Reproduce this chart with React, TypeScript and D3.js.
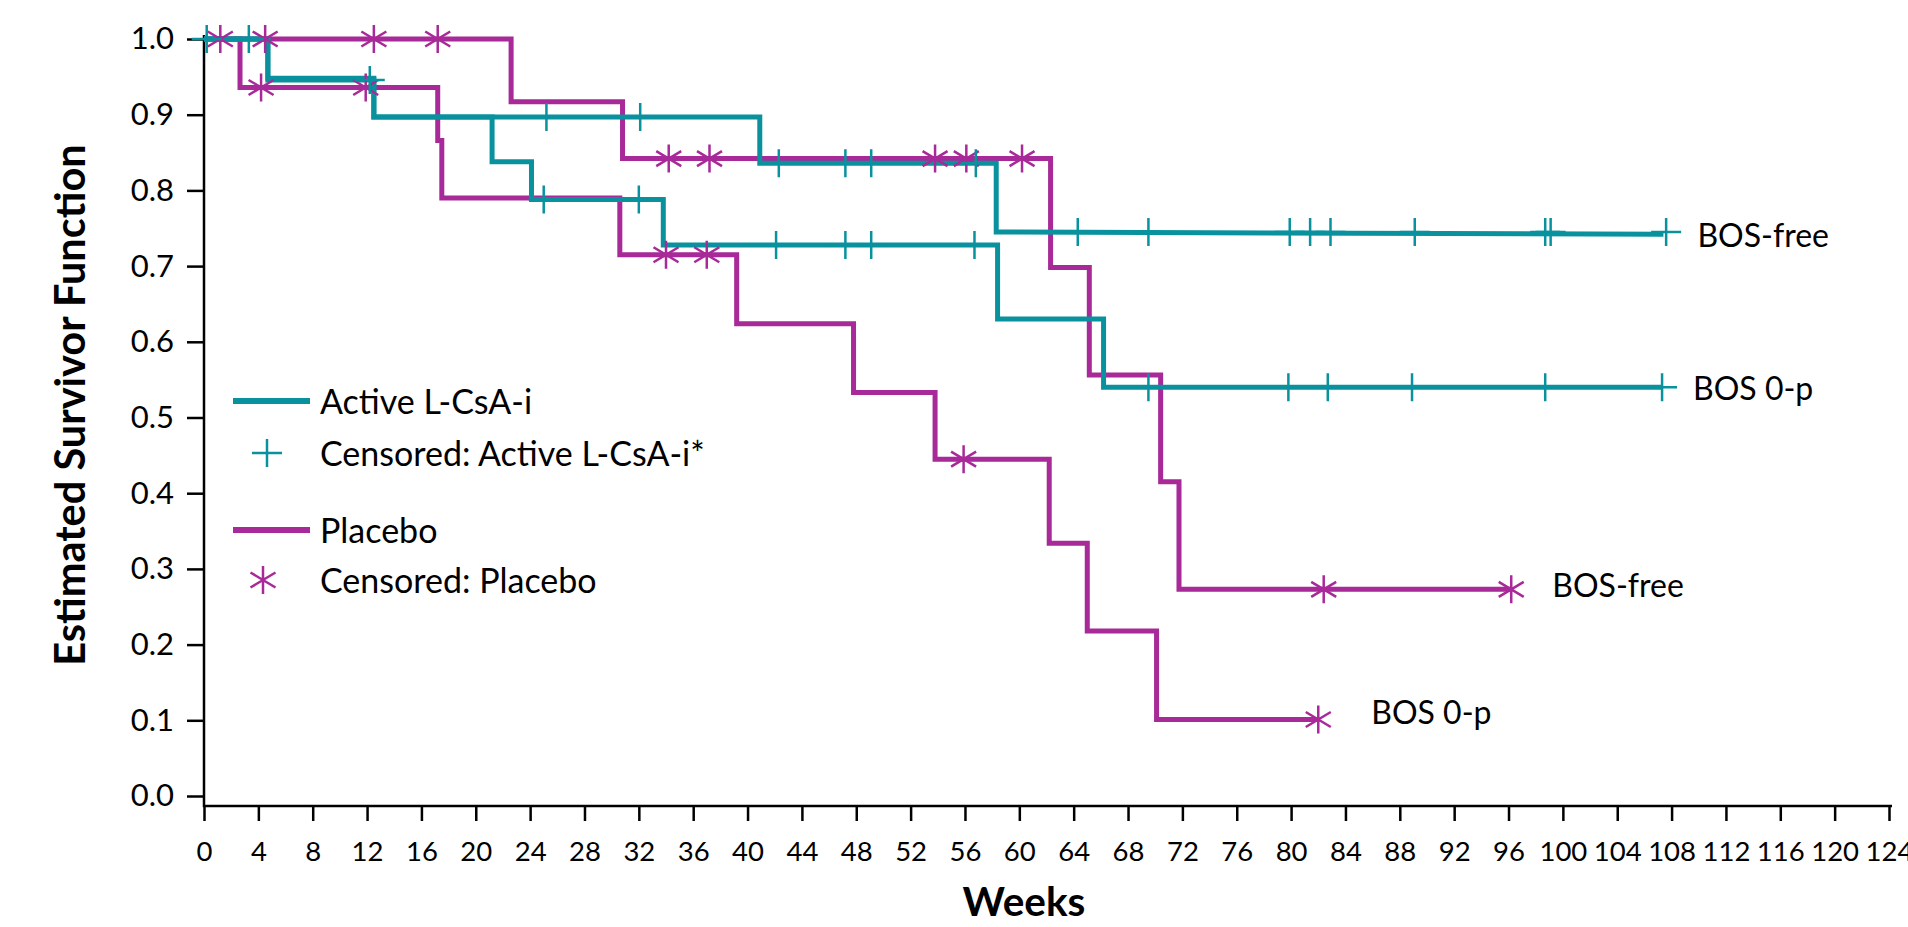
import React, { useEffect, useRef } from 'react';
import * as d3 from 'd3';

const TEAL = '#09929e';
const PURPLE = '#a82998';
const FONT = 'Lato, "Open Sans", sans-serif';

// event times (weeks) and survivor estimate after each event; last entry = end of follow-up
const activeFreeTimes = [0, 4.7, 12.5, 40.9, 58.3, 107.4];
const activeFreeSurv = [1.0, 0.948, 0.897, 0.836, 0.745, 0.742];
const activeFreeCensored = [0.2, 3.3, 25.2, 32.1, 42.3, 47.2, 49.1, 56.8, 64.3, 69.5, 79.9, 81.4, 82.9, 89.1, 98.7, 99.1, 107.6];

const activeBos0pTimes = [0, 4.7, 12.5, 21.2, 24.1, 33.8, 58.4, 66.2, 107.3];
const activeBos0pSurv = [1.0, 0.946, 0.897, 0.838, 0.788, 0.728, 0.63, 0.54, 0.54];
const activeBos0pCensored = [12.2, 25.0, 32.0, 42.1, 47.2, 49.1, 56.7, 69.5, 79.8, 82.7, 88.9, 98.7, 107.3];

const placeboFreeTimes = [0, 22.6, 30.8, 62.3, 65.15, 70.4, 71.75, 96.2];
const placeboFreeSurv = [1.0, 0.917, 0.842, 0.698, 0.556, 0.415, 0.273, 0.273];
const placeboFreeCensored = [1.2, 4.5, 12.5, 17.2, 34.2, 37.2, 53.8, 56.1, 60.2, 82.4, 96.2];

const placeboBos0pTimes = [0, 2.65, 17.2, 17.5, 30.6, 39.2, 47.8, 53.8, 62.2, 65.0, 70.1, 82.0];
const placeboBos0pSurv = [1.0, 0.936, 0.866, 0.79, 0.715, 0.624, 0.533, 0.445, 0.334, 0.218, 0.101, 0.101];
const placeboBos0pCensored = [4.2, 11.9, 34.0, 37.0, 55.9, 82.0];

const xTicks = d3.range(0, 125, 4);
const yTicks = d3.range(0, 11).map((d) => d / 10);

const legendItems = ['Active L-CsA-i', 'Censored: Active L-CsA-i*', 'Placebo', 'Censored: Placebo'];

type Curve = {
    times: number[];
    surv: number[];
    censored: number[];
    color: string;
    marker: 'plus' | 'star';
    label: string;
    labelDx: number;
    labelDy: number;
};

const curves: Curve[] = [
    { times: placeboFreeTimes, surv: placeboFreeSurv, censored: placeboFreeCensored, color: PURPLE, marker: 'star', label: 'BOS-free', labelDx: 41, labelDy: 8 },
    { times: placeboBos0pTimes, surv: placeboBos0pSurv, censored: placeboBos0pCensored, color: PURPLE, marker: 'star', label: 'BOS 0-p', labelDx: 53, labelDy: 4 },
    { times: activeFreeTimes, surv: activeFreeSurv, censored: activeFreeCensored, color: TEAL, marker: 'plus', label: 'BOS-free', labelDx: 34, labelDy: 13 },
    { times: activeBos0pTimes, surv: activeBos0pSurv, censored: activeBos0pCensored, color: TEAL, marker: 'plus', label: 'BOS 0-p', labelDx: 31, labelDy: 13 },
];

// survivor value at time t (step function)
const survAt = (times: number[], surv: number[], t: number) => {
    let v = surv[0];
    times.forEach((tt, i) => {
        if (tt <= t && i < times.length - 1) v = surv[i];
    });
    return v;
};

const plusPath = (cx: number, cy: number) => `M${cx - 15},${cy}H${cx + 15}M${cx},${cy - 14}V${cy + 14}`;
const starPath = (cx: number, cy: number) => `M${cx},${cy - 14}V${cy + 14}M${cx - 12.5},${cy - 7.5}L${cx + 12.5},${cy + 7.5}M${cx - 12.5},${cy + 7.5}L${cx + 12.5},${cy - 7.5}`;

const App = () => {
    const ref = useRef<SVGSVGElement>(null);

    useEffect(() => {
        const svg = d3.select(ref.current);
        svg.selectAll('*').remove();

        const x = d3.scaleLinear().domain([0, 124]).range([204, 1889]);
        const y = d3.scaleLinear().domain([0, 1]).range([796, 39]);
        const axisY = 806;

        // y axis
        const gy = svg.append('g').attr('transform', 'translate(204,0)')
            .call(d3.axisLeft(y).tickValues(yTicks).tickFormat(d3.format('.1f')).tickSize(17).tickSizeOuter(0).tickPadding(13));
        gy.select('.domain').remove();
        gy.selectAll('line').attr('stroke', '#000').attr('stroke-width', 2.5);
        gy.selectAll('text').attr('font-family', FONT).attr('font-size', 31).attr('fill', '#000');

        // x axis
        const gx = svg.append('g').attr('transform', `translate(0,${axisY})`)
            .call(d3.axisBottom(x).tickValues(xTicks).tickSize(15).tickSizeOuter(0).tickPadding(20));
        gx.select('.domain').remove();
        gx.selectAll('line').attr('stroke', '#000').attr('stroke-width', 2.5);
        gx.selectAll('text').attr('font-family', FONT).attr('font-size', 27.5).attr('fill', '#000');

        svg.append('line').attr('x1', 204).attr('x2', 204).attr('y1', 35).attr('y2', axisY + 1.25)
            .attr('stroke', '#000').attr('stroke-width', 2.5);
        svg.append('line').attr('x1', 204).attr('x2', 1892).attr('y1', axisY).attr('y2', axisY)
            .attr('stroke', '#000').attr('stroke-width', 2.5);

        // axis titles
        svg.append('text').attr('x', 1024).attr('y', 916).attr('text-anchor', 'middle')
            .attr('font-family', FONT).attr('font-weight', 700).attr('font-size', 40.5).text('Weeks');
        svg.append('text').attr('transform', 'translate(85,405) rotate(-90)').attr('text-anchor', 'middle')
            .attr('font-family', FONT).attr('font-weight', 700).attr('font-size', 41.5).text('Estimated Survivor Function');

        const line = d3.line<[number, number]>()
            .x((d) => x(d[0]))
            .y((d) => y(d[1]))
            .curve(d3.curveStepAfter);

        curves.forEach((c) => {
            const pts = c.times.map((t, i) => [t, c.surv[i]] as [number, number]);
            // last segment drawn straight (slight drift in the flat tail)
            const d = line(pts.slice(0, -1)) + `L${x(pts[pts.length - 1][0])},${y(pts[pts.length - 1][1])}`;
            svg.append('path').attr('d', d).attr('fill', 'none')
                .attr('stroke', c.color).attr('stroke-width', 5);
        });

        curves.forEach((c) => {
            const g = svg.append('g');
            g.selectAll('path').data(c.censored).enter().append('path')
                .attr('d', (t) => {
                    const cx = x(t);
                    const cy = y(survAt(c.times, c.surv, t));
                    return c.marker === 'plus' ? plusPath(cx, cy) : starPath(cx, cy);
                })
                .attr('fill', 'none').attr('stroke', c.color).attr('stroke-width', 2.5);
            const tEnd = c.times[c.times.length - 1];
            svg.append('text').attr('x', x(tEnd) + c.labelDx).attr('y', y(c.surv[c.surv.length - 1]) + c.labelDy)
                .attr('font-family', FONT).attr('font-size', 32).attr('fill', '#000').text(c.label);
        });

        // legend
        const leg = svg.append('g');
        const rowsY = [401, 453, 530, 580];
        leg.append('line').attr('x1', 233).attr('x2', 310).attr('y1', rowsY[0]).attr('y2', rowsY[0])
            .attr('stroke', TEAL).attr('stroke-width', 6);
        leg.append('path').attr('d', plusPath(267, rowsY[1])).attr('stroke', TEAL).attr('stroke-width', 2.5).attr('fill', 'none');
        leg.append('line').attr('x1', 233).attr('x2', 310).attr('y1', rowsY[2]).attr('y2', rowsY[2])
            .attr('stroke', PURPLE).attr('stroke-width', 6);
        leg.append('path').attr('d', starPath(263, rowsY[3])).attr('stroke', PURPLE).attr('stroke-width', 2.5).attr('fill', 'none');
        leg.selectAll('text').data(legendItems).enter().append('text')
            .attr('x', 320).attr('y', (d, i) => rowsY[i] + 13)
            .attr('font-family', FONT).attr('font-size', 34).attr('fill', '#000').text((d) => d);
    }, []);

    return (
        <svg
            ref={ref}
            width={1908}
            height={927}
            style={{ position: 'absolute', left: 0, top: 0, background: '#fff', display: 'block' }}
        />
    );
};

export default App;
